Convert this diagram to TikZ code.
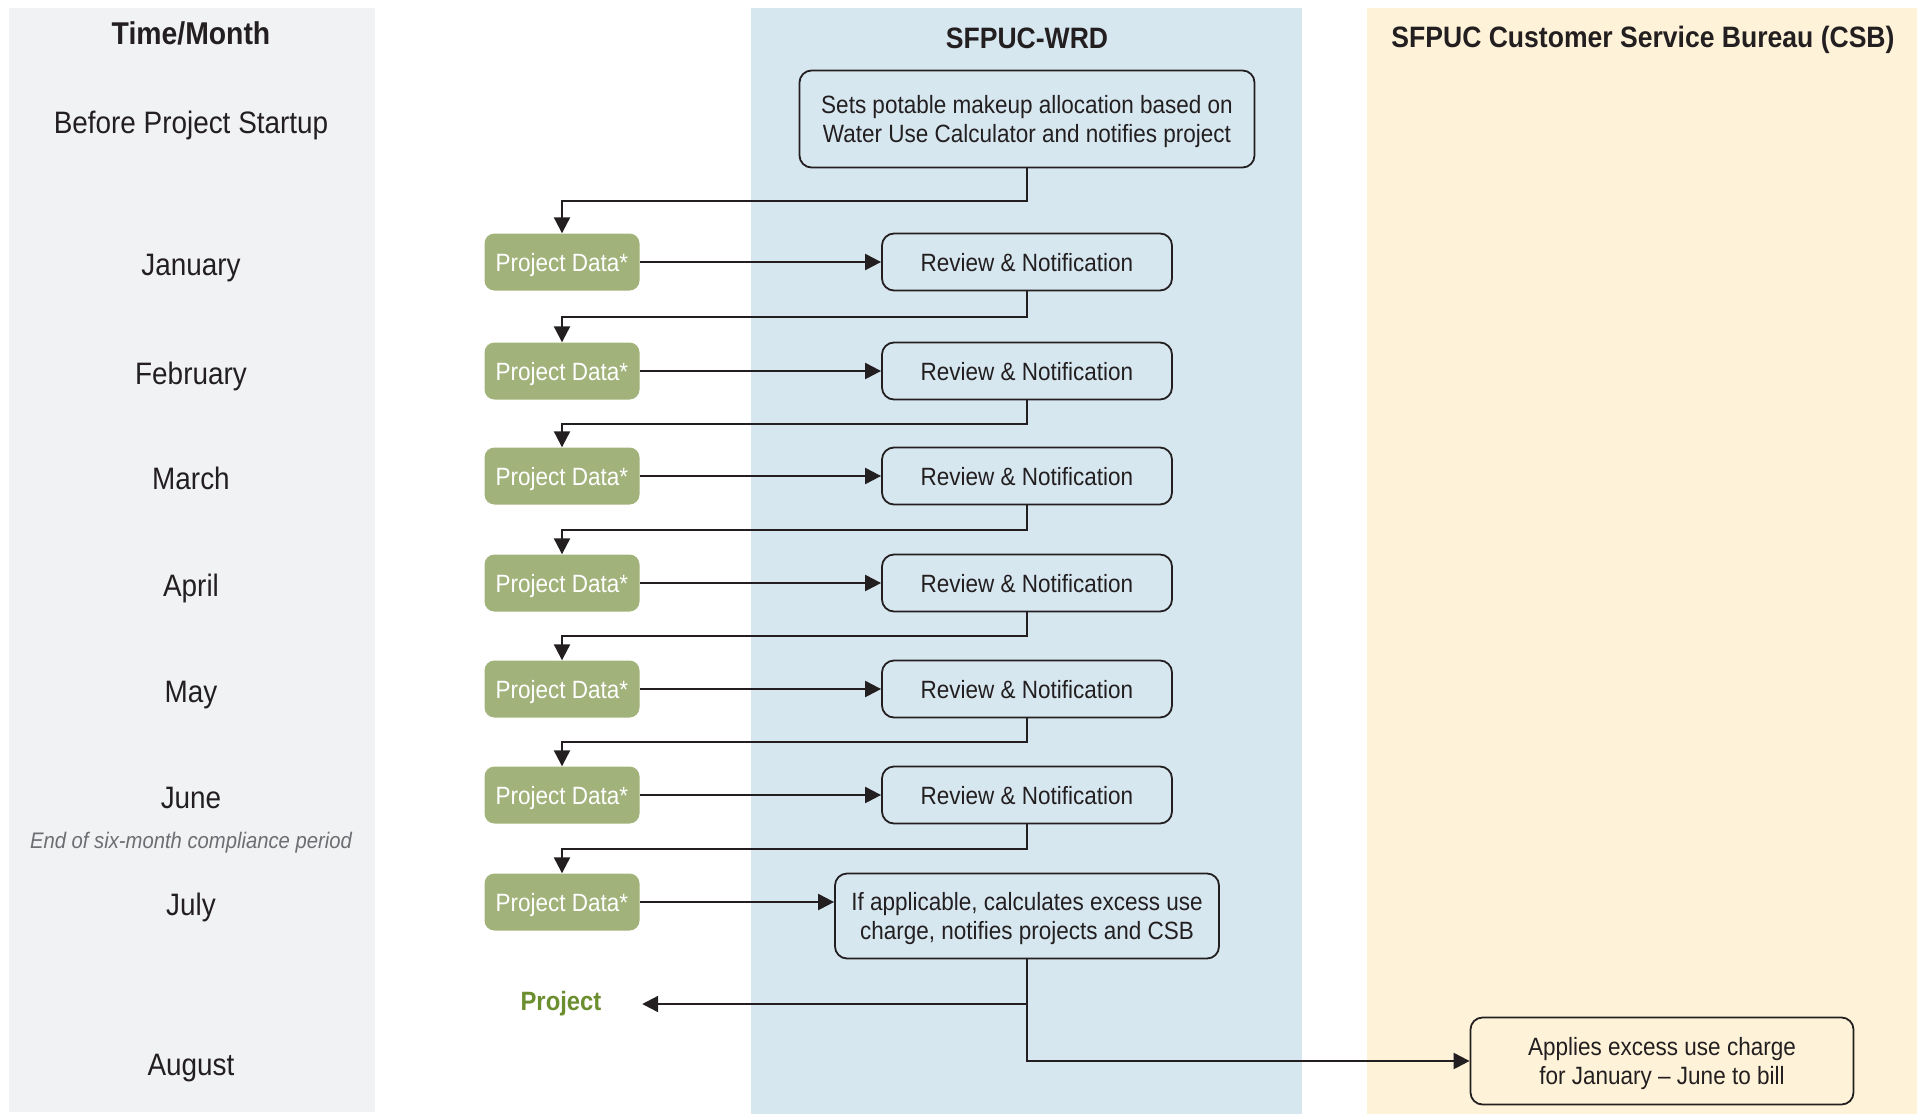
\documentclass[tikz,border=0pt]{standalone}
\usepackage{fontspec}
\setmainfont{Liberation Sans}[FakeStretch=0.9]
\usetikzlibrary{calc,arrows.meta,positioning}
\definecolor{bandgray}{HTML}{F1F2F4}
\definecolor{bandblue}{HTML}{D7E7F0}
\definecolor{bandyellow}{HTML}{FEF3D9}
\definecolor{datagreen}{HTML}{A1B27A}
\definecolor{projgreen}{HTML}{6B8E2F}
\definecolor{ink}{HTML}{231F20}
\definecolor{notegray}{HTML}{6D6E71}
\tikzset{>={Triangle[length=16pt,width=16pt]}}
\tikzset{
  flow/.style={->,draw=ink,line width=2.2pt},
  head/.style={font=\fontsize{29.5}{34}\selectfont\bfseries,text=ink},
  month/.style={font=\fontsize{31}{36}\selectfont,text=ink,
    text height=22pt,text depth=0pt},
  databox/.style={fill=datagreen,rounded corners=10pt,text=white,
    minimum width=155pt,minimum height=57pt,inner sep=0pt,
    text height=18pt,text depth=0pt,
    font=\fontsize{25}{30}\selectfont},
  wrdbox/.style={draw=ink,line width=1.8pt,rounded corners=12pt,text=ink,
    align=center,inner sep=0pt,text depth=0pt,font=\fontsize{25}{29.5}\selectfont}
}

\begin{document}
\begin{tikzpicture}[x=1pt,y=-1pt]
\useasboundingbox (0,0) rectangle (1925,1114);
\fill[bandgray] (9,8) rectangle (375,1112);
\fill[bandblue] (751,8) rectangle (1302,1114);
\fill[bandyellow] (1367,8) rectangle (1917,1114);

\node[head,font=\fontsize{31.5}{36}\selectfont\bfseries] (hTime) at (191,33) {Time/Month};
\node[head] (hWRD) at (1027,38) {SFPUC-WRD};
\node[head] (hCSB) at (1643,40) {SFPUC Customer Service Bureau (CSB)};

\node[month] (m0) at (191,122) {Before Project Startup};
\foreach \name/\y [count=\i] in {January/262,February/371,March/476,April/583,May/689,June/795,July/902}
{
  \node[month] (m\i) at (191,\y+2) {\name};
  \node[databox] (pd\i) at (562,\y) {Project Data*};
}
\node[font=\fontsize{22.5}{26}\selectfont\itshape,text=notegray] (note) at (191,843) {End of six-month compliance period};
\node[month] (m8) at (191,1064) {August};

\node[wrdbox,minimum width=455pt,minimum height=97pt] (alloc) at (1027,119)
  {Sets potable makeup allocation based on\\Water Use Calculator and notifies project};
\foreach \y [count=\i] in {262,371,476,583,689,795}
  \node[wrdbox,minimum width=290pt,minimum height=57pt,text height=18pt] (rev\i) at (1027,\y) {Review \& Notification};
\node[wrdbox,minimum width=384pt,minimum height=85pt] (calc) at (1027,916)
  {If applicable, calculates excess use\\charge, notifies projects and CSB};
\node[wrdbox,minimum width=383pt,minimum height=87pt] (bill) at (1662,1061)
  {Applies excess use charge\\for January – June to bill};
\node[font=\fontsize{26.5}{30}\selectfont\bfseries,text=projgreen,minimum width=162pt,inner sep=0pt] (proj) at (561,1004) {Project};

\draw[flow] (alloc.south) -- ++(0,32.5) -| (pd1.north);
\foreach \i in {1,...,6}
  \draw[flow] (pd\i) -- (rev\i);
\foreach \i [evaluate=\i as \j using int(\i+1)] in {1,...,6}
  \draw[flow] (rev\i.south) |- ($(rev\i.south)!.5!(pd\j.north)$) -| (pd\j.north);
\draw[flow] (pd7.east) -- (pd7.east -| calc.west);
\draw[flow] (calc.south) |- (proj.east);
\draw[flow] (calc.south) |- (bill.west);
\end{tikzpicture}
\end{document}
